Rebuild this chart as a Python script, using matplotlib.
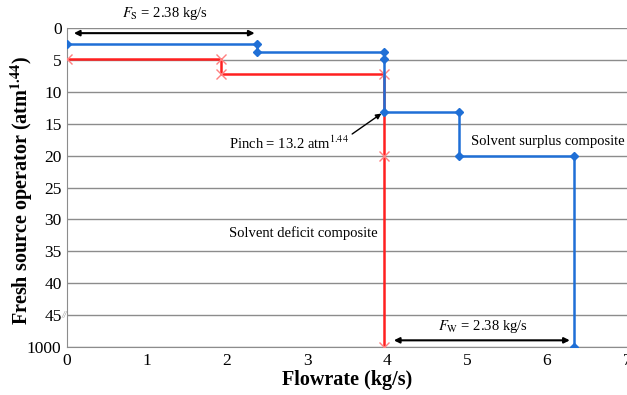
import numpy as np
import matplotlib
matplotlib.use("Agg")
import matplotlib.pyplot as plt

plt.rcParams['font.family'] = ['Liberation Serif', 'DejaVu Serif']
plt.rcParams['mathtext.fontset'] = 'stix'

# ---------- данные ----------
surplus_x = [0, 2.38, 2.38, 3.96, 3.96, 3.96, 4.9, 4.9, 6.34, 6.34]
surplus_y = [2.5, 2.5, 3.7, 3.7, 4.9, 13.2, 13.2, 20, 20, 1000]

deficit_x = [0, 1.92, 1.92, 3.96, 3.96, 3.96]
deficit_y = [4.9, 4.9, 7.2, 7.2, 20, 1000]

y_ticks = [0, 5, 10, 15, 20, 25, 30, 35, 40, 45, 1000]
x_ticks = [0, 1, 2, 3, 4, 5, 6, 7]


# разрыв оси: всё выше 45 сжимается в одну клетку
def fwd(y):
    y = np.asarray(y, dtype=float)
    return np.where(y <= 45, y, 45 + (y - 45) * 5 / 955)


def inv(t):
    t = np.asarray(t, dtype=float)
    return np.where(t <= 45, t, 45 + (t - 45) * 955 / 5)


fig = plt.figure(figsize=(6.27, 3.95), dpi=100)
ax = fig.add_axes([0.107, 0.1215, 0.893, 0.8075])
ax.set_yscale('function', functions=(fwd, inv))
ax.set_ylim(1000, 0)
ax.set_xlim(0, 7)

grid_c = '#8c8c8c'
for yv in y_ticks:
    ax.axhline(yv, color=grid_c, lw=1, zorder=0)

ax.plot(deficit_x, deficit_y, color='#ff2020', lw=1.8, zorder=2)
ax.plot(deficit_x, deficit_y, ls='none', marker='x', ms=7, mew=1,
        color='#ff8080', zorder=3)
ax.plot(surplus_x, surplus_y, color='#1f6fd6', lw=1.8, marker='D', ms=4,
        zorder=4)

ax.set_yticks(y_ticks)
ax.set_yticklabels([str(v) for v in y_ticks])
ax.set_xticks(x_ticks)
ax.tick_params(length=0, labelsize=12.5, pad=4)
for s in ['top', 'right']:
    ax.spines[s].set_visible(False)
for s in ['left', 'bottom']:
    ax.spines[s].set_color(grid_c)

ax.set_xlabel('Flowrate (kg/s)', fontsize=14.5, fontweight='bold', labelpad=1)
ax.set_ylabel('Fresh source operator (atm$^{\\mathbf{1.44}}$)', fontsize=14.5,
              fontweight='bold')
ax.yaxis.set_label_coords(-0.058, 0.49)

# стрелки и подписи
ax.annotate('', xy=(0.05, 0.8), xytext=(2.38, 0.8),
            arrowprops=dict(arrowstyle='<|-|>', color='black', lw=1.5,
                            mutation_scale=8), annotation_clip=False)
ax.text(1.22, -0.9, '$F_{\\rm S}$ = 2.38 kg/s', ha='center', va='bottom',
        fontsize=10.5, clip_on=False)

ax.annotate('', xy=(4.05, 800), xytext=(6.32, 800),
            arrowprops=dict(arrowstyle='<|-|>', color='black', lw=1.5,
                            mutation_scale=8))
ax.text(5.2, 380, '$F_{\\rm W}$ = 2.38 kg/s', ha='center', va='center',
        fontsize=10.5)

ax.annotate('Pinch = 13.2 atm$^{1.44}$', xy=(3.93, 13.4), xytext=(2.03, 18.0),
            fontsize=10.5, va='center', ha='left',
            arrowprops=dict(arrowstyle='-|>', color='black', lw=1,
                            mutation_scale=8, shrinkA=0, shrinkB=0,
                            relpos=(1.0, 0.9)))
ax.text(5.05, 17.8, 'Solvent surplus composite', fontsize=10.5, va='center',
        clip_on=False)
ax.text(2.03, 32.2, 'Solvent deficit composite', fontsize=10.5, va='center')

ax.text(-0.03, 47.2, '//', fontsize=7, color='#999999', style='italic',
        ha='center', va='center', clip_on=False)

fig.savefig('out.png', dpi=100)
